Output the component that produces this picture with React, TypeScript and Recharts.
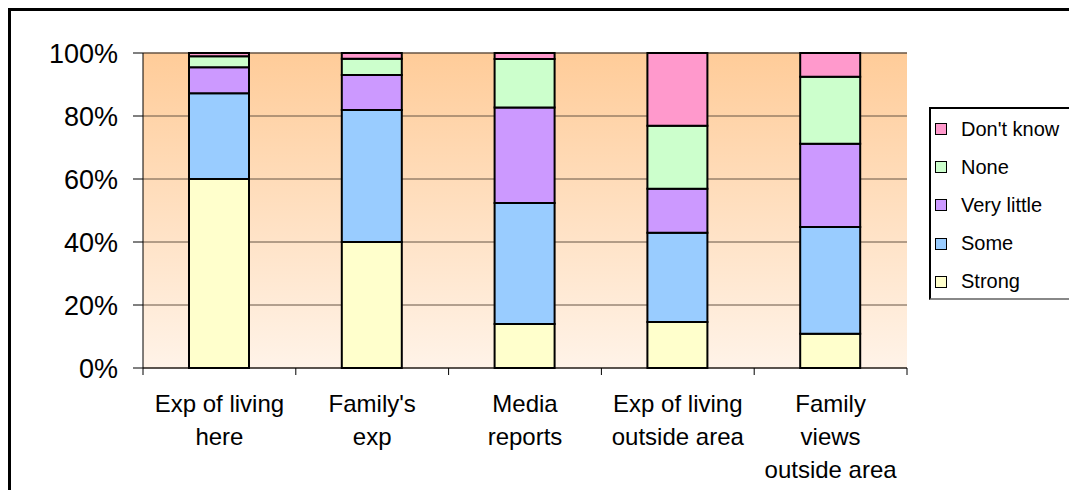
import { BarChart, Bar, XAxis, YAxis, CartesianGrid } from 'recharts';

const categoryLines = [
  ['Exp of living', 'here'],
  ["Family's", 'exp'],
  ['Media', 'reports'],
  ['Exp of living', 'outside area'],
  ['Family', 'views', 'outside area'],
];
const categories = categoryLines.map((l) => l.join(' '));

const strong = [60, 40, 14, 14.6, 10.9];
const some = [27.2, 41.9, 38.4, 28.3, 33.9];
const veryLittle = [8.3, 11.1, 30.3, 14, 26.4];
const none = [3.5, 5.2, 15.4, 20, 21.3];
const dontKnow = [1, 1.8, 1.9, 23.1, 7.5];

const yTicks = [0, 20, 40, 60, 80, 100];

const series = [
  { key: 'strong', name: 'Strong', color: '#FFFFCC', values: strong },
  { key: 'some', name: 'Some', color: '#99CCFF', values: some },
  { key: 'veryLittle', name: 'Very little', color: '#CC99FF', values: veryLittle },
  { key: 'none', name: 'None', color: '#CCFFCC', values: none },
  { key: 'dontKnow', name: "Don't know", color: '#FF99CC', values: dontKnow },
];

const data = categories.map((name, i) => {
  const row: Record<string, string | number> = { name };
  series.forEach((s) => {
    row[s.key] = s.values[i];
  });
  return row;
});

const W = 1069;
const H = 490;
const PLOT_LEFT = 143;
const PLOT_RIGHT = 907;
const PLOT_TOP = 53;
const PLOT_BOTTOM = 368;
const HALF_BAND = (PLOT_RIGHT - PLOT_LEFT) / categories.length / 2;
const FONT = '"Liberation Sans", Arial, sans-serif';

function CategoryTick(props: any) {
  const { x, y, payload } = props;
  const idx = categories.indexOf(payload.value);
  const lines = categoryLines[idx] ?? [payload.value];
  const last = idx === categories.length - 1;
  return (
    <g>
      <line x1={x - HALF_BAND} x2={x - HALF_BAND} y1={y} y2={y + 7} stroke="#000" />
      {last && <line x1={x + HALF_BAND} x2={x + HALF_BAND} y1={y} y2={y + 7} stroke="#000" />}
      <text x={x} y={y + 44} textAnchor="middle" fontSize={24} fill="#000" fontFamily={FONT}>
        {lines.map((l, i) => (
          <tspan key={i} x={x} dy={i === 0 ? 0 : 33}>
            {l}
          </tspan>
        ))}
      </text>
    </g>
  );
}

export default function App() {
  const legendItems = [...series].reverse();
  return (
    <div
      style={{
        position: 'absolute',
        left: 0,
        top: 0,
        width: W,
        height: H,
        overflow: 'hidden',
        background: '#fff',
        fontFamily: FONT,
      }}
    >
      <div
        style={{
          position: 'absolute',
          left: 8,
          top: 8,
          width: W + 20,
          height: H + 20,
          borderTop: '3px solid #000',
          borderLeft: '3px solid #000',
        }}
      />
      <div style={{ position: 'absolute', left: 0, top: 0 }}>
        <BarChart
          width={W}
          height={H}
          data={data}
          margin={{ top: PLOT_TOP, right: W - PLOT_RIGHT, left: 0, bottom: 0 }}
          barSize={60}
        >
          <defs>
            <linearGradient id="plotBg" x1="0" y1="0" x2="0" y2="1">
              <stop offset="0%" stopColor="#FFCC99" />
              <stop offset="100%" stopColor="#FFF3E8" />
            </linearGradient>
          </defs>
          <CartesianGrid vertical={false} stroke="#665544" fill="url(#plotBg)" fillOpacity={1} />
          <XAxis
            dataKey="name"
            interval={0}
            height={H - PLOT_BOTTOM}
            stroke="#000"
            tickLine={false}
            tickSize={0}
            tickMargin={0}
            tick={<CategoryTick />}
          />
          <YAxis
            domain={[0, 100]}
            ticks={yTicks}
            width={PLOT_LEFT}
            stroke="#000"
            tickSize={10}
            tickMargin={15}
            tickFormatter={(v) => `${v}%`}
            tick={{ fontSize: 27, fill: '#000', fontFamily: FONT }}
          />
          <YAxis
            yAxisId="right"
            orientation="right"
            width={0}
            tick={false}
            tickLine={false}
            stroke="#808080"
            strokeWidth={2}
          />
          {series.map((s) => (
            <Bar
              key={s.key}
              dataKey={s.key}
              name={s.name}
              stackId="a"
              fill={s.color}
              stroke="#000"
              strokeWidth={2}
              isAnimationActive={false}
            />
          ))}
        </BarChart>
      </div>
      <div
        style={{
          position: 'absolute',
          left: 929,
          top: 107,
          width: 160,
          height: 189,
          borderLeft: '2px solid #000',
          borderTop: '2px solid #000',
          borderBottom: '2px solid #888',
          background: '#fff',
        }}
      >
        {legendItems.map((s, i) => (
          <div
            key={s.key}
            style={{
              position: 'absolute',
              left: 4,
              top: 20 + i * 38.2 - 12,
              height: 24,
              display: 'flex',
              alignItems: 'center',
              fontSize: 20,
              color: '#000',
              whiteSpace: 'nowrap',
            }}
          >
            <span
              style={{
                display: 'inline-block',
                width: 10,
                height: 10,
                border: '1px solid #000',
                background: s.color,
                marginRight: 14,
              }}
            />
            {s.name}
          </div>
        ))}
      </div>
    </div>
  );
}
